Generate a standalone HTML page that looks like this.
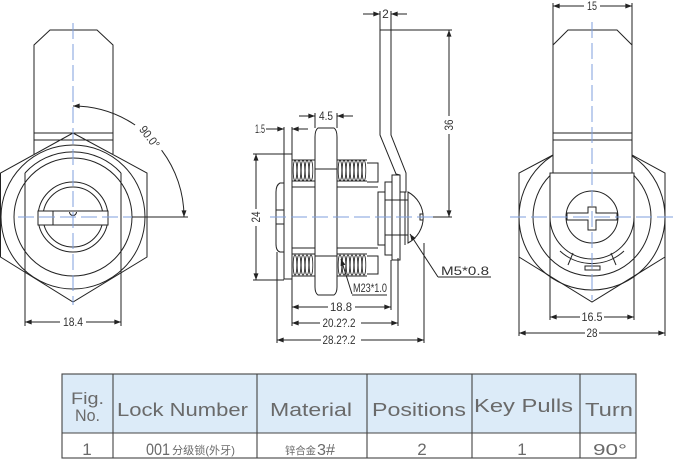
<!DOCTYPE html>
<html><head><meta charset="utf-8"><style>
html,body{margin:0;padding:0;background:#fff;}
svg{display:block;}
.d{font-family:"Liberation Sans Narrow","Liberation Sans",sans-serif;font-size:12px;fill:#333;}
.t{font-family:"Liberation Sans","Noto Sans CJK SC",sans-serif;fill:#6a6a6a;}
</style></head><body>
<svg width="674" height="460" viewBox="0 0 674 460" xmlns="http://www.w3.org/2000/svg">
<defs>
<marker id="a" viewBox="0 0 8 6" refX="8" refY="3" markerWidth="8" markerHeight="5" markerUnits="userSpaceOnUse" orient="auto-start-reverse"><path d="M0,0L8,3L0,6z" fill="#222"/></marker>
</defs>

<!-- ================= LEFT VIEW ================= -->
<g fill="none" stroke="#222" stroke-width="1">
  <path d="M34,154 L34,45 L50,30 L97,30 L113,45 L113,154"/>
  <line x1="34" y1="133" x2="113" y2="133"/>
  <line x1="34" y1="140" x2="113" y2="140"/>
  <polygon points="73,133 147,173 147,257 73,302 0.5,257 0.5,173"/>
  <circle cx="73" cy="217" r="72"/>
  <circle cx="73" cy="217" r="59"/>
  <path d="M25,173 A65,65 0 0 1 121,173"/>
  <line x1="25" y1="173" x2="25" y2="326"/>
  <line x1="121" y1="173" x2="121" y2="326"/>
  <circle cx="73" cy="217" r="35"/>
  <circle cx="73" cy="217" r="30"/>
  <rect x="38" y="211" width="70" height="14" fill="#fff"/>
  <line x1="53" y1="211" x2="53" y2="225"/>
  <path d="M69.5,212 A3.5,3.5 0 0 0 76.5,212"/>
  <path d="M135.1,125 A111,111 0 0 0 73,106" marker-end="url(#a)"/>
  <path d="M161.6,150.2 A111,111 0 0 1 184,217" marker-end="url(#a)"/>
  <line x1="132" y1="217" x2="188" y2="217"/>
  <line x1="60" y1="322" x2="25" y2="322" marker-end="url(#a)"/>
  <line x1="86" y1="322" x2="121" y2="322" marker-end="url(#a)"/>
</g>
<g stroke="#7f9fdc" stroke-width="1" stroke-dasharray="16 5" fill="none">
  <line x1="73" y1="23" x2="73" y2="305"/>
  <line x1="18" y1="217" x2="132" y2="217"/>
</g>
<text class="d" x="73" y="326" text-anchor="middle" textLength="20" lengthAdjust="spacingAndGlyphs">18.4</text>
<text class="d" transform="translate(149.5,137) rotate(52)" x="0" y="4" text-anchor="middle" textLength="25" lengthAdjust="spacingAndGlyphs">90.0°</text>

<!-- ================= MIDDLE VIEW ================= -->
<g fill="none" stroke="#222" stroke-width="1">
  <path d="M284,183 L280,183 Q276,185 276,192 L276,244 Q276,251 280,252 L284,252"/>
  <line x1="276" y1="210" x2="284" y2="210"/>
  <line x1="276" y1="224" x2="284" y2="224"/>
  <rect x="284" y="154" width="8" height="125"/>
  <line x1="292" y1="187" x2="378" y2="187"/>
  <line x1="292" y1="248" x2="378" y2="248"/>
  <line x1="292" y1="160" x2="315" y2="160"/>
  <line x1="292" y1="181" x2="315" y2="181"/>
  <line x1="292" y1="254" x2="315" y2="254"/>
  <line x1="292" y1="276" x2="315" y2="276"/>
  <line x1="337" y1="160" x2="367" y2="160"/>
  <line x1="337" y1="181" x2="367" y2="181"/>
  <line x1="337" y1="254" x2="367" y2="254"/>
  <line x1="337" y1="276" x2="367" y2="276"/>
  <path d="M367,163 L378,163 L378,182 L367,182"/>
  <path d="M367,256 L378,256 L378,274 L367,274"/>
</g>
<g fill="none" stroke="#222" stroke-width="0.75">
  <ellipse cx="295" cy="170.5" rx="1.8" ry="10"/><ellipse cx="299" cy="170.5" rx="1.8" ry="10"/><ellipse cx="303" cy="170.5" rx="1.8" ry="10"/><ellipse cx="307" cy="170.5" rx="1.8" ry="10"/><ellipse cx="311" cy="170.5" rx="1.8" ry="10"/>
  <ellipse cx="340" cy="170.5" rx="1.8" ry="10"/><ellipse cx="344" cy="170.5" rx="1.8" ry="10"/><ellipse cx="348" cy="170.5" rx="1.8" ry="10"/><ellipse cx="352" cy="170.5" rx="1.8" ry="10"/><ellipse cx="356" cy="170.5" rx="1.8" ry="10"/><ellipse cx="360" cy="170.5" rx="1.8" ry="10"/><ellipse cx="364" cy="170.5" rx="1.8" ry="10"/>
  <ellipse cx="295" cy="265" rx="1.8" ry="10"/><ellipse cx="299" cy="265" rx="1.8" ry="10"/><ellipse cx="303" cy="265" rx="1.8" ry="10"/><ellipse cx="307" cy="265" rx="1.8" ry="10"/><ellipse cx="311" cy="265" rx="1.8" ry="10"/>
  <ellipse cx="340" cy="265" rx="1.8" ry="10"/><ellipse cx="344" cy="265" rx="1.8" ry="10"/><ellipse cx="348" cy="265" rx="1.8" ry="10"/><ellipse cx="352" cy="265" rx="1.8" ry="10"/><ellipse cx="356" cy="265" rx="1.8" ry="10"/><ellipse cx="360" cy="265" rx="1.8" ry="10"/><ellipse cx="364" cy="265" rx="1.8" ry="10"/>
</g>
<g fill="none" stroke="#222" stroke-width="1">
  <path d="M315,137 Q315,130 318,128 L334,128 Q337,130 337,137 L337,287 Q337,293 334,295 L318,295 Q315,293 315,287 Z" fill="#fff"/>
  <line x1="315" y1="169" x2="337" y2="169"/>
  <line x1="315" y1="256" x2="337" y2="256"/>
  <rect x="378" y="192" width="7" height="53" fill="#fff"/>
  <rect x="385" y="182" width="7" height="73" fill="#fff"/>
  <rect x="392" y="175" width="8" height="85" fill="#fff"/>
  <line x1="405" y1="190" x2="405" y2="245"/>
  <line x1="385" y1="200" x2="408" y2="200"/>
  <line x1="385" y1="235" x2="408" y2="235"/>
  <path d="M380,30 L391,30 L391,135 L406,173 L406,192 L400,192 L400,175 L396,174 L380,135 Z" fill="#fff"/>
  <path d="M408,192 A29,29 0 0 1 408,243 Z" fill="#fff"/>
  <path d="M423.5,214 L420,214 L420,220 L423.5,220"/>
  <line x1="438" y1="277" x2="410" y2="234" marker-end="url(#a)"/>
  <line x1="438" y1="277" x2="491" y2="277"/>
  <line x1="352" y1="294" x2="341" y2="259" marker-end="url(#a)"/>
  <line x1="352" y1="295" x2="387" y2="295"/>
  <line x1="266" y1="129" x2="284" y2="129" marker-end="url(#a)"/>
  <line x1="308" y1="129" x2="292" y2="129" marker-end="url(#a)"/>
  <line x1="284" y1="127" x2="284" y2="154"/>
  <line x1="292" y1="127" x2="292" y2="326"/>
  <line x1="299" y1="116" x2="315" y2="116" marker-end="url(#a)"/>
  <line x1="353" y1="116" x2="337" y2="116" marker-end="url(#a)"/>
  <line x1="315" y1="113" x2="315" y2="128"/>
  <line x1="337" y1="113" x2="337" y2="128"/>
  <line x1="256" y1="209" x2="256" y2="154" marker-end="url(#a)"/>
  <line x1="256" y1="226" x2="256" y2="280" marker-end="url(#a)"/>
  <line x1="253" y1="154" x2="284" y2="154"/>
  <line x1="253" y1="280" x2="284" y2="280"/>
  <line x1="363" y1="14" x2="380" y2="14" marker-end="url(#a)"/>
  <line x1="407" y1="14" x2="391" y2="14" marker-end="url(#a)"/>
  <line x1="380" y1="11" x2="380" y2="30"/>
  <line x1="391" y1="11" x2="391" y2="30"/>
  <line x1="391" y1="30" x2="452" y2="30"/>
  <line x1="433" y1="217" x2="452" y2="217"/>
  <line x1="449" y1="116" x2="449" y2="30" marker-end="url(#a)"/>
  <line x1="449" y1="134" x2="449" y2="217" marker-end="url(#a)"/>
  <line x1="277" y1="252" x2="277" y2="343"/>
  <line x1="391" y1="260" x2="391" y2="310"/>
  <line x1="398" y1="258" x2="398" y2="326"/>
  <line x1="424" y1="243" x2="424" y2="343"/>
  <line x1="328" y1="307" x2="292" y2="307" marker-end="url(#a)"/>
  <line x1="355" y1="307" x2="391" y2="307" marker-end="url(#a)"/>
  <line x1="320" y1="323" x2="292" y2="323" marker-end="url(#a)"/>
  <line x1="361" y1="323" x2="398" y2="323" marker-end="url(#a)"/>
  <line x1="321" y1="340" x2="277" y2="340" marker-end="url(#a)"/>
  <line x1="361" y1="340" x2="424" y2="340" marker-end="url(#a)"/>
</g>
<g stroke="#7f9fdc" stroke-width="1" stroke-dasharray="16 5" fill="none">
  <line x1="270" y1="217" x2="433" y2="217"/>
</g>
<text class="d" x="260" y="133" text-anchor="middle" textLength="10" lengthAdjust="spacingAndGlyphs">1.5</text>
<text class="d" x="326" y="120" text-anchor="middle" textLength="14" lengthAdjust="spacingAndGlyphs">4.5</text>
<text class="d" transform="translate(256,217) rotate(-90)" x="0" y="4" text-anchor="middle" textLength="11" lengthAdjust="spacingAndGlyphs">24</text>
<text class="d" x="385.5" y="18" text-anchor="middle">2</text>
<text class="d" transform="translate(449,125) rotate(-90)" x="0" y="4" text-anchor="middle" textLength="11" lengthAdjust="spacingAndGlyphs">36</text>
<text class="d" x="341" y="311" text-anchor="middle" textLength="22" lengthAdjust="spacingAndGlyphs">18.8</text>
<text class="d" x="339" y="327" text-anchor="middle" textLength="33" lengthAdjust="spacingAndGlyphs">20.2?.2</text>
<text class="d" x="339" y="344" text-anchor="middle" textLength="33" lengthAdjust="spacingAndGlyphs">28.2?.2</text>
<text class="d" x="353" y="292" font-size="10" textLength="34" lengthAdjust="spacingAndGlyphs">M23*1.0</text>
<text class="d" x="441" y="275" font-size="16" textLength="48" lengthAdjust="spacingAndGlyphs">M5*0.8</text>

<!-- ================= RIGHT VIEW ================= -->
<g fill="none" stroke="#222" stroke-width="1">
  <polyline points="553,155 519,173 519,257 592,302 665,257 665,173 632,155"/>
  <circle cx="592" cy="217" r="73"/>
  <circle cx="592" cy="217" r="59"/>
  <path d="M553,173 L553,45 L568,30 L617,30 L632,45 L632,173 Z" fill="#fff"/>
  <line x1="553" y1="133" x2="632" y2="133"/>
  <line x1="553" y1="140" x2="632" y2="140"/>
  <path d="M550,173 L550,217 A42,42 0 0 0 634,217 L634,173 Z" fill="#fff"/>
  <line x1="550" y1="217" x2="550" y2="320"/>
  <line x1="634" y1="217" x2="634" y2="320"/>
  <path d="M560,251 A47,47 0 0 0 624,251"/>
  <line x1="573" y1="253" x2="568" y2="265"/>
  <line x1="611" y1="253" x2="616" y2="265"/>
  <rect x="585" y="266" width="15" height="4"/>
  <circle cx="592" cy="217" r="26"/>
  <path d="M567,213 L588,213 L588,207 L596,207 L596,213 L617,213 L617,220 L596,220 L596,230 L588,230 L588,220 L567,220 Z"/>
  <line x1="553" y1="3" x2="553" y2="45"/>
  <line x1="632" y1="3" x2="632" y2="45"/>
  <line x1="584" y1="6" x2="553" y2="6" marker-end="url(#a)"/>
  <line x1="600" y1="6" x2="632" y2="6" marker-end="url(#a)"/>
  <line x1="580" y1="317" x2="550" y2="317" marker-end="url(#a)"/>
  <line x1="604" y1="317" x2="634" y2="317" marker-end="url(#a)"/>
  <line x1="519" y1="257" x2="519" y2="336"/>
  <line x1="665" y1="257" x2="665" y2="336"/>
  <line x1="585" y1="333" x2="519" y2="333" marker-end="url(#a)"/>
  <line x1="599" y1="333" x2="665" y2="333" marker-end="url(#a)"/>
</g>
<g stroke="#7f9fdc" stroke-width="1" stroke-dasharray="16 5" fill="none">
  <line x1="592" y1="22" x2="592" y2="300"/>
  <line x1="510" y1="217" x2="674" y2="217"/>
</g>
<text class="d" x="592" y="10" text-anchor="middle" textLength="10" lengthAdjust="spacingAndGlyphs">15</text>
<text class="d" x="592" y="321" text-anchor="middle" textLength="21" lengthAdjust="spacingAndGlyphs">16.5</text>
<text class="d" x="592" y="337" text-anchor="middle" textLength="11" lengthAdjust="spacingAndGlyphs">28</text>

<!-- ================= TABLE ================= -->
<rect x="62" y="374" width="574" height="59" fill="#dcebf8"/>
<g stroke="#444" stroke-width="1.1" fill="none">
  <rect x="62" y="374" width="574" height="84"/>
  <line x1="62" y1="433" x2="636" y2="433"/>
  <line x1="113" y1="374" x2="113" y2="458"/>
  <line x1="257" y1="374" x2="257" y2="458"/>
  <line x1="367" y1="374" x2="367" y2="458"/>
  <line x1="472" y1="374" x2="472" y2="458"/>
  <line x1="580" y1="374" x2="580" y2="458"/>
</g>
<g class="t">
  <text x="87.5" y="404" font-size="17" text-anchor="middle" textLength="33" lengthAdjust="spacingAndGlyphs">Fig.</text>
  <text x="87.5" y="421" font-size="17" text-anchor="middle" textLength="25" lengthAdjust="spacingAndGlyphs">No.</text>
  <text x="117" y="416" font-size="18" textLength="131" lengthAdjust="spacingAndGlyphs">Lock Number</text>
  <text x="270" y="416" font-size="18" textLength="82" lengthAdjust="spacingAndGlyphs">Material</text>
  <text x="372" y="416" font-size="18" textLength="94" lengthAdjust="spacingAndGlyphs">Positions</text>
  <text x="474" y="412" font-size="18" textLength="99" lengthAdjust="spacingAndGlyphs">Key Pulls</text>
  <text x="585" y="416" font-size="18" textLength="48" lengthAdjust="spacingAndGlyphs">Turn</text>
  <text x="87" y="455" font-size="17" text-anchor="middle">1</text>
  <text x="146" y="455" font-size="17" textLength="24" lengthAdjust="spacingAndGlyphs">001</text>
  <text x="172" y="454" font-size="11" textLength="63" lengthAdjust="spacingAndGlyphs">分级锁(外牙)</text>
  <text x="285" y="454" font-size="10.5" textLength="31" lengthAdjust="spacingAndGlyphs">锌合金</text>
  <text x="317" y="455" font-size="16" textLength="18" lengthAdjust="spacingAndGlyphs">3#</text>
  <text x="422" y="455" font-size="17" text-anchor="middle">2</text>
  <text x="522" y="455" font-size="17" text-anchor="middle">1</text>
  <text x="593" y="455" font-size="16" textLength="34" lengthAdjust="spacingAndGlyphs">90°</text>
</g>
</svg>
</body></html>
